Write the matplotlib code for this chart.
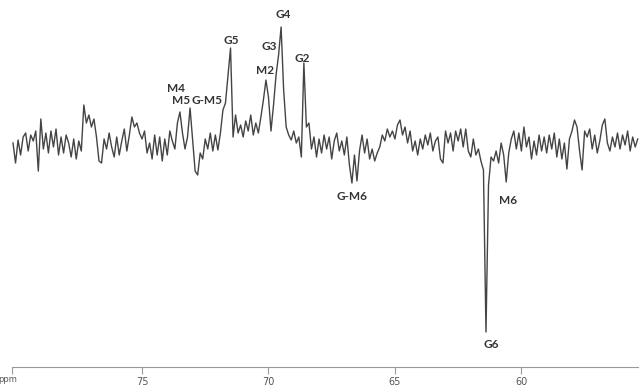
import numpy as np
import matplotlib.pyplot as plt

# 13C spectrum, sampled every 0.1 ppm from 80.1 down to 55.4
ppm_start = 80.1
ppm_end = 55.4
intensity = [
    2, -18, 5, -10, 8, 12, -6, 10, 4, 14,          # 80.1 - 79.2
    -26, 26, -4, 12, -8, 14, -2, 16, -10, 8,       # 79.1 - 78.2
    -8, 10, 2, -12, 6, -14, 4, -6, 40, 22,         # 78.1 - 77.2
    30, 18, 26, 8, -16, -18, 6, -4, 12, -2,        # 77.1 - 76.2
    -12, 8, -10, 4, 16, -6, 10, 28, 18, 22,        # 76.1 - 75.2
    12, 6, 14, -8, 2, -14, 10, -10, 8, -16,        # 75.1 - 74.2
    6, -10, 14, 4, -4, 22, 33, 12, -4, 8,          # 74.1 - 73.2
    37, 6, -26, -30, -8, -14, 6, -4, 12, -6,       # 73.1 - 72.2
    10, -5, 12, 35, 42, 70, 97, 8, 30, 12,         # 72.1 - 71.2
    20, 8, 24, 14, 30, 10, 22, 12, 28, 45,         # 71.1 - 70.2
    65, 48, 14, 40, 70, 90, 118, 55, 18, 10,       # 70.1 - 69.2
    5, 14, 2, 8, -12, 82, 18, 22, -4, 8,           # 69.1 - 68.2
    -12, 6, -8, 10, -4, 8, -14, 4, 12, -6,         # 68.1 - 67.2
    4, -10, 8, -20, -38, -10, -36, -6, 10, -8,     # 67.1 - 66.2
    6, -14, -4, -16, -8, -2, 10, 4, 16, 8,         # 66.1 - 65.2
    14, 6, 20, 25, 10, 18, 2, 14, -6, 4,           # 65.1 - 64.2
    -10, 6, -4, 10, 0, 12, -6, 4, 8, -14,          # 64.1 - 63.2
    -18, 14, 2, 12, -6, 14, 4, 16, -2, 16,         # 63.1 - 62.2
    -6, -12, 6, -10, -4, -16, -25, -187, -40, -12, # 62.1 - 61.2
    -16, -6, -18, 2, -10, -37, -8, 6, 14, -4,      # 61.1 - 60.2
    12, -6, 18, -2, 8, -14, 4, -10, 10, -6,        # 60.1 - 59.2
    8, -8, 10, -4, 12, -12, 6, -14, 2, -24,        # 59.1 - 58.2
    6, 14, 25, 18, -6, -25, 14, 8, 16, -4,         # 58.1 - 57.2
    10, -8, 4, 20, 26, 2, -6, 8, -2, 12,           # 57.1 - 56.2
    -4, 10, 0, 14, -6, 8, -2, 6,                   # 56.1 - 55.4
]

# peak assignments (label, ppm, height of label)
peak_labels = ["G4", "G5", "G3", "G2", "M2", "M4", "M5", "G-M5", "G-M6", "M6", "G6"]
label_ppm = [69.43, 71.48, 69.98, 68.68, 70.14, 73.66, 73.46, 72.43, 66.70, 60.53, 61.21]
label_int = [130, 104, 98, 87, 74, 57, 44, 44, -51, -55, -199]

tick_ppm = [75, 70, 65, 60]

ppm = np.linspace(ppm_start, ppm_end, len(intensity))

fig = plt.figure(figsize=(6.39, 3.86), dpi=100)
ax = fig.add_axes([12 / 639, 19 / 386, 627 / 639, 367 / 386])
ax.plot(ppm, intensity, color="#444444", lw=1.0)

for name, x, y in zip(peak_labels, label_ppm, label_int):
    ax.text(x, y, name, ha="center", va="center", fontsize=8.5,
            family="Lato", weight="bold", color="#333333")

ax.set_xlim(80.14, 55.35)
ax.set_ylim(-222, 145)
for s in ["top", "left", "right"]:
    ax.spines[s].set_visible(False)
ax.spines["bottom"].set_color("#9a9a9a")
ax.spines["bottom"].set_linewidth(0.8)
ax.set_yticks([])
ax.set_xticks([80.14] + tick_ppm)
ax.set_xticklabels([""] + [str(t) for t in tick_ppm])
ax.tick_params(axis="x", direction="out", length=5, width=0.8, color="#9a9a9a",
               labelsize=7, labelcolor="#555555", pad=2)
ax.text(80.3, -235, "ppm", ha="center", va="center", fontsize=6,
        color="#555555", clip_on=False)

fig.savefig("out.png", dpi=100)
